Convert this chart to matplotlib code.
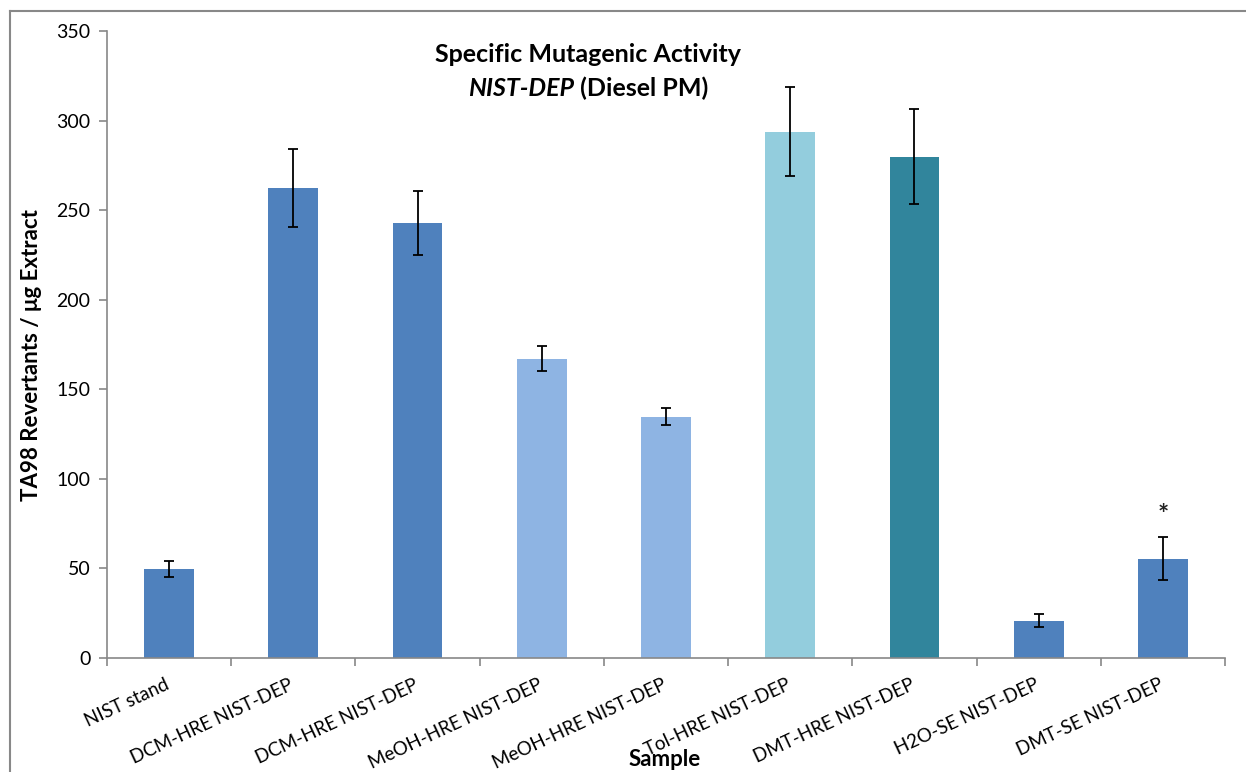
import matplotlib.pyplot as plt
from matplotlib.lines import Line2D
from matplotlib.offsetbox import TextArea, HPacker, AnchoredOffsetbox
import numpy as np

plt.rcParams['font.family'] = ['Lato', 'DejaVu Sans']

samples = ["NIST stand", "DCM-HRE NIST-DEP", "DCM-HRE NIST-DEP",
           "MeOH-HRE NIST-DEP", "MeOH-HRE NIST-DEP", "Tol-HRE NIST-DEP",
           "DMT-HRE NIST-DEP", "H2O-SE NIST-DEP", "DMT-SE NIST-DEP"]
activity = [49.7, 262.3, 242.9, 167.0, 134.6, 293.7, 279.7, 20.7, 55.3]
errors = [4.7, 21.7, 18.0, 7.0, 4.7, 24.8, 26.5, 3.6, 12.0]
colors = ["#4F81BD", "#4F81BD", "#4F81BD", "#8EB4E3", "#8EB4E3",
          "#93CDDD", "#31859C", "#4F81BD", "#4F81BD"]
starred = "DMT-SE NIST-DEP"

fig = plt.figure(figsize=(12.46, 7.72), dpi=100)
ax = fig.add_axes([107/1246, 1 - 658/772, (1225 - 107)/1246, (658 - 31)/772])

x = np.arange(len(samples))
ax.bar(x, activity, width=0.40, color=colors, zorder=2)
ax.errorbar(x, activity, yerr=errors, fmt='none', ecolor='black',
            elinewidth=1.3, capsize=3.3, capthick=1.3, zorder=3)

# significance marker above the last bar
i = samples.index(starred)
ax.text(x[i], activity[i] + errors[i] + 6, "*", ha='center', va='bottom',
        fontsize=19, fontweight='bold', color='#222222')

ax.set_xlim(-0.5, len(samples) - 0.5)
ax.set_ylim(0, 350)
ax.set_yticks(range(0, 351, 50))

# category boundaries carry the x ticks, labels sit under the bar centres
ax.set_xticks(np.arange(-0.5, len(samples), 1.0))
ax.set_xticklabels([])
ax.tick_params(axis='x', direction='out', length=6, color='#888888', width=1.2)
ax.tick_params(axis='y', direction='out', length=6, color='#888888', width=1.2,
               labelsize=14, pad=6)
for xi, lab in zip(x, samples):
    ax.annotate(lab, xy=(xi, 0), xycoords=('data', 'data'),
                xytext=(-3, -13), textcoords='offset points',
                rotation=25, rotation_mode='anchor', ha='right', va='top',
                fontsize=13.5)

for side in ['top', 'right']:
    ax.spines[side].set_visible(False)
for side in ['left', 'bottom']:
    ax.spines[side].set_color('#888888')
    ax.spines[side].set_linewidth(1.2)

ax.set_ylabel("TA98 Revertants / μg Extract", fontsize=16, fontweight='bold')
ax.yaxis.set_label_coords(-0.058, 0.483)
fig.text(665/1246, 1 - 760/772, "Sample", ha='center', va='center',
         fontsize=16, fontweight='bold')

fig.text(588/1246, 1 - 55/772, "Specific Mutagenic Activity", ha='center',
         va='center', fontsize=18, fontweight='bold')
# second title line: italic part + upright part
part1 = TextArea("NIST-DEP", textprops=dict(fontsize=18, fontweight='bold',
                                             fontstyle='italic'))
part2 = TextArea(" (Diesel PM)", textprops=dict(fontsize=18, fontweight='bold'))
box = HPacker(children=[part1, part2], align='baseline', pad=0, sep=0)
anch = AnchoredOffsetbox(loc='center', child=box, frameon=False,
                         bbox_to_anchor=(588/1246, 1 - 88/772),
                         bbox_transform=fig.transFigure, borderpad=0, pad=0)
fig.add_artist(anch)

# outer chart frame
fig.add_artist(Line2D([10/1246, 10/1246], [0, 1 - 11/772],
                      transform=fig.transFigure, color='#888888', lw=1.5))
fig.add_artist(Line2D([10/1246, 1], [1 - 11/772, 1 - 11/772],
                      transform=fig.transFigure, color='#888888', lw=1.5))

fig.savefig("out.png", dpi=100)
